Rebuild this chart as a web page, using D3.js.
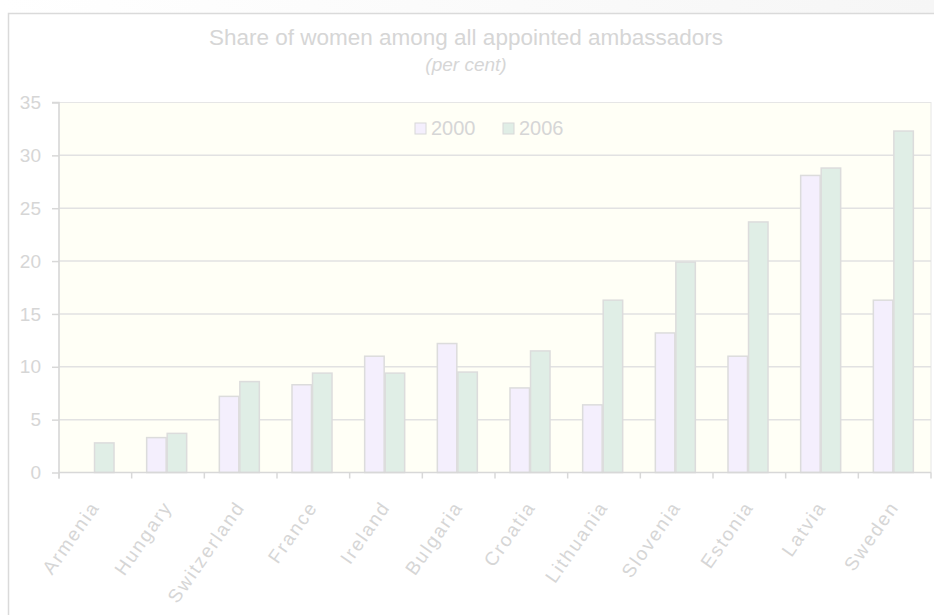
<!DOCTYPE html>
<html>
<head>
<meta charset="utf-8">
<script src="https://cdn.jsdelivr.net/npm/d3@7"></script>
<style>
  body { margin: 0; background: #fff; }
  text { font-family: "Liberation Sans", Arial, sans-serif; fill: #d6d6d6; }
</style>
</head>
<body>
<div id="chart"></div>
<script>
const countries = ["Armenia", "Hungary", "Switzerland", "France", "Ireland", "Bulgaria",
  "Croatia", "Lithuania", "Slovenia", "Estonia", "Latvia", "Sweden"];
const years = ["2000", "2006"];
const values2000 = [null, 3.3, 7.2, 8.3, 11.0, 12.2, 8.0, 6.4, 13.2, 11.0, 28.1, 16.3];
const values2006 = [2.8, 3.7, 8.6, 9.4, 9.4, 9.5, 11.5, 16.3, 19.9, 23.7, 28.8, 32.3];
const yTicks = [0, 5, 10, 15, 20, 25, 30, 35];
const fills = { "2000": "#f4effd", "2006": "#e0eee6" };

const width = 934, height = 615;
const svg = d3.select("#chart").append("svg")
    .attr("width", width)
    .attr("height", height);

// faint strip above the frame
const grad = svg.append("defs").append("linearGradient").attr("id", "topfade");
grad.append("stop").attr("offset", "0%").attr("stop-color", "#ffffff");
grad.append("stop").attr("offset", "100%").attr("stop-color", "#f6f6f6");
svg.append("rect").attr("x", 0).attr("y", 0).attr("width", width).attr("height", 13)
    .attr("fill", "url(#topfade)");

// outer frame
svg.append("rect")
    .attr("x", 8.5).attr("y", 13.5)
    .attr("width", width).attr("height", height)
    .attr("fill", "#fff")
    .attr("stroke", "#dadada")
    .attr("stroke-width", 1.5);

const plot = { left: 59, right: 931, top: 102.5, bottom: 472.5 };

const x = d3.scaleBand().domain(countries).range([plot.left, plot.right]);
const x1 = d3.scaleBand().domain(years).range([15, 55]).paddingInner(0.05);
const y = d3.scaleLinear().domain([0, 35]).range([plot.bottom, plot.top]);

// title
svg.append("text")
    .attr("x", 466).attr("y", 45)
    .attr("text-anchor", "middle")
    .style("font-size", "22.5px")
    .text("Share of women among all appointed ambassadors");
svg.append("text")
    .attr("x", 466).attr("y", 71)
    .attr("text-anchor", "middle")
    .style("font-size", "19px")
    .style("font-style", "italic")
    .text("(per cent)");

// plot background
svg.append("rect")
    .attr("x", plot.left).attr("y", plot.top)
    .attr("width", plot.right - plot.left).attr("height", plot.bottom - plot.top)
    .attr("fill", "#fffff6")
    .attr("stroke", "#e6e6e6");

// gridlines
svg.append("g").selectAll("line")
    .data(yTicks.filter(d => d > 0 && d < 35))
    .join("line")
    .attr("x1", plot.left).attr("x2", plot.right)
    .attr("y1", d => y(d)).attr("y2", d => y(d))
    .attr("stroke", "#e2e2e2")
    .attr("stroke-width", 1.5);

// bars
const groups = svg.append("g").selectAll("g")
    .data(countries)
    .join("g")
    .attr("transform", d => `translate(${x(d)},0)`);

groups.selectAll("rect")
    .data((d, i) => [
        { year: "2000", value: values2000[i] },
        { year: "2006", value: values2006[i] }
    ].filter(b => b.value != null))
    .join("rect")
    .attr("x", d => x1(d.year))
    .attr("y", d => y(d.value))
    .attr("width", x1.bandwidth())
    .attr("height", d => y(0) - y(d.value))
    .attr("fill", d => fills[d.year])
    .attr("stroke", "#dcdcdc")
    .attr("stroke-width", 1.5);

// y axis
const yAxis = svg.append("g")
    .attr("transform", `translate(${plot.left},0)`)
    .call(d3.axisLeft(y).tickValues(yTicks).tickSize(7).tickPadding(11));
yAxis.select(".domain").attr("stroke", "#d8d8d8").attr("stroke-width", 1.5)
    .attr("d", `M-7,${plot.top}H0V${plot.bottom + 6}`);
yAxis.selectAll(".tick line").attr("stroke", "#d8d8d8").attr("stroke-width", 1.5);
yAxis.selectAll(".tick text")
    .style("font-size", "19px")
    .style("font-family", "Liberation Sans, Arial, sans-serif")
    .attr("fill", "#d6d6d6");

// x axis: ticks on band edges
const edges = countries.map(c => x(c)).concat([plot.right]);
svg.append("line")
    .attr("x1", plot.left).attr("x2", plot.right)
    .attr("y1", plot.bottom).attr("y2", plot.bottom)
    .attr("stroke", "#d8d8d8").attr("stroke-width", 1.5);
svg.append("g").selectAll("line")
    .data(edges)
    .join("line")
    .attr("x1", d => d).attr("x2", d => d)
    .attr("y1", plot.bottom).attr("y2", plot.bottom + 6)
    .attr("stroke", "#d8d8d8").attr("stroke-width", 1.5);

svg.append("g").selectAll("text")
    .data(countries)
    .join("text")
    .attr("transform", d => `translate(${x(d) + x.bandwidth() / 2 + 5},507) rotate(-55)`)
    .attr("text-anchor", "end")
    .style("font-size", "19px")
    .style("letter-spacing", "1.9px")
    .text(d => d);

// legend
const legend = svg.append("g");
const legendX = [415, 503];
years.forEach((yr, i) => {
    legend.append("rect")
        .attr("x", legendX[i]).attr("y", 123)
        .attr("width", 11).attr("height", 11)
        .attr("fill", fills[yr])
        .attr("stroke", "#d8d8d8");
    legend.append("text")
        .attr("x", legendX[i] + 16).attr("y", 135)
        .style("font-size", "20px")
        .text(yr);
});
</script>
</body>
</html>
